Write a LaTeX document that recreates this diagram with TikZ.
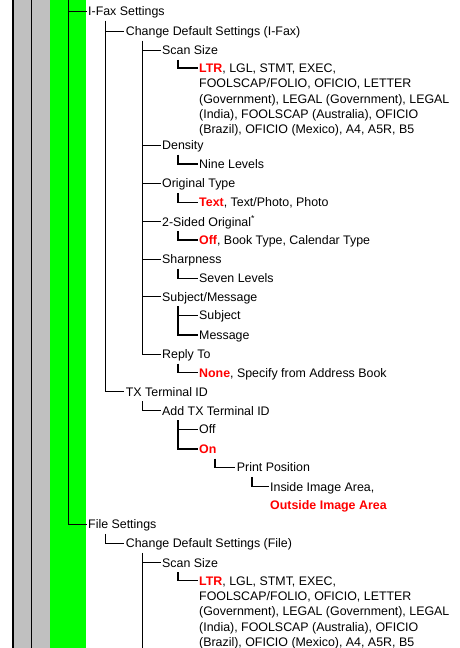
\documentclass[tikz,border=0pt]{standalone}
\usepackage{fontspec}
\setmainfont{Liberation Sans}
\usepackage{xcolor}
\definecolor{dfred}{HTML}{FF0000}
\definecolor{dfgreen}{HTML}{00FF00}
\definecolor{dfgray}{HTML}{C0C0C0}
\newcommand\dflt[1]{\textbf{\color{dfred}#1}}
\newcommand\tn[5]{%
  \node[tx] (#1) at (#2,#3+4.4) {#4};
  \coordinate (#1-h) at ([xshift=-1.5pt,yshift=4.4pt]#1.base west);
  \coordinate (#1-d) at (#5,#3+9.5);}
\newcommand\sizelist{\begin{tabular}[t]{@{}l@{}}\dflt{LTR}, LGL, STMT, EXEC,\\ FOOLSCAP/FOLIO, OFICIO, LETTER\\ (Government), LEGAL (Government), LEGAL\\ (India), FOOLSCAP (Australia), OFICIO\\ (Brazil), OFICIO (Mexico), A4, A5R, B5\end{tabular}}
\begin{document}
\begin{tikzpicture}[x=1pt,y=-1pt,
  tx/.style={anchor=base west,inner sep=0pt,font=\fontsize{12.4}{15.3}\selectfont},
  thinln/.style={line width=1pt},
  thickln/.style={line width=1.5pt}]
\useasboundingbox (0,0) rectangle (460,648);
\fill[white] (0,0) rectangle (460,648);
\fill[dfgray] (13,0) rectangle (50,648);
\fill[dfgreen] (50,0) rectangle (86,648);
\draw[line width=1.3pt] (13,0) -- (13,648);
\draw[line width=1pt] (31,0) -- (31,648);

\tn{ifax}{88}{11}{I-Fax Settings}{105}
\tn{cds}{125.7}{31}{Change Default Settings (I-Fax)}{142}
\tn{scan}{162}{50}{Scan Size}{178}
\tn{ltr}{199}{68}{\sizelist}{215}
\tn{density}{162}{145}{Density}{178}
\tn{nine}{199}{164}{Nine Levels}{215}
\tn{otype}{162}{183.3}{Original Type}{178}
\tn{txt}{199}{202.3}{\dflt{Text}, Text/Photo, Photo}{215}
\tn{twos}{162}{221.7}{2-Sided Original\textsuperscript{*}}{178}
\tn{off1}{199}{240}{\dflt{Off}, Book Type, Calendar Type}{215}
\tn{sharp}{162}{259}{Sharpness}{178}
\tn{seven}{199}{278.3}{Seven Levels}{215}
\tn{subm}{162}{296.7}{Subject/Message}{178}
\tn{subj}{199}{315.5}{Subject}{215}
\tn{msg}{199}{335}{Message}{215}
\tn{reply}{162}{354}{Reply To}{178}
\tn{none}{199}{372.7}{\dflt{None}, Specify from Address Book}{215}
\tn{txid}{125.7}{391.7}{TX Terminal ID}{142}
\tn{addtx}{162}{410.7}{Add TX Terminal ID}{178}
\tn{off2}{199}{429.3}{Off}{215}
\tn{on}{199}{449}{\dflt{On}}{215}
\tn{print}{236.7}{467.3}{Print Position}{252}
\tn{inside}{270}{486.7}{\begin{tabular}[t]{@{}l@{}}Inside Image Area,\\[3pt]\dflt{Outside Image Area}\end{tabular}}{288}
\tn{file}{88}{524.3}{File Settings}{105}
\tn{cdsf}{125.7}{543.3}{Change Default Settings (File)}{142}
\tn{scanf}{162}{562.7}{Scan Size}{178}
\tn{ltrf}{199}{580.7}{\sizelist}{215}

\coordinate (top68) at (68,0);
\coordinate (bot142) at (142,648);
\draw[thinln] (top68) |- (ifax-h) (top68) |- (file-h);
\draw[thinln] (ifax-d) |- (cds-h) (ifax-d) |- (txid-h);
\draw[thinln] (cds-d) |- (scan-h) (cds-d) |- (density-h) (cds-d) |- (otype-h)
  (cds-d) |- (twos-h) (cds-d) |- (sharp-h) (cds-d) |- (subm-h) (cds-d) |- (reply-h);
\draw[thinln] (txid-d) |- (addtx-h);
\draw[thinln] (file-d) |- (cdsf-h);
\draw[thinln] (cdsf-d) |- (scanf-h) (cdsf-d) -- (bot142);
\draw[thickln] (scan-d) |- (ltr-h);
\draw[thickln] (density-d) |- (nine-h);
\draw[thickln] (otype-d) |- (txt-h);
\draw[thickln] (twos-d) |- (off1-h);
\draw[thickln] (sharp-d) |- (seven-h);
\draw[thickln] (subm-d) |- (subj-h) (subm-d) |- (msg-h);
\draw[thickln] (reply-d) |- (none-h);
\draw[thickln] (addtx-d) |- (off2-h) (addtx-d) |- (on-h);
\draw[thickln] (on-d) |- (print-h);
\draw[thickln] (print-d) |- (inside-h);
\draw[thickln] (scanf-d) |- (ltrf-h);
\end{tikzpicture}
\end{document}
